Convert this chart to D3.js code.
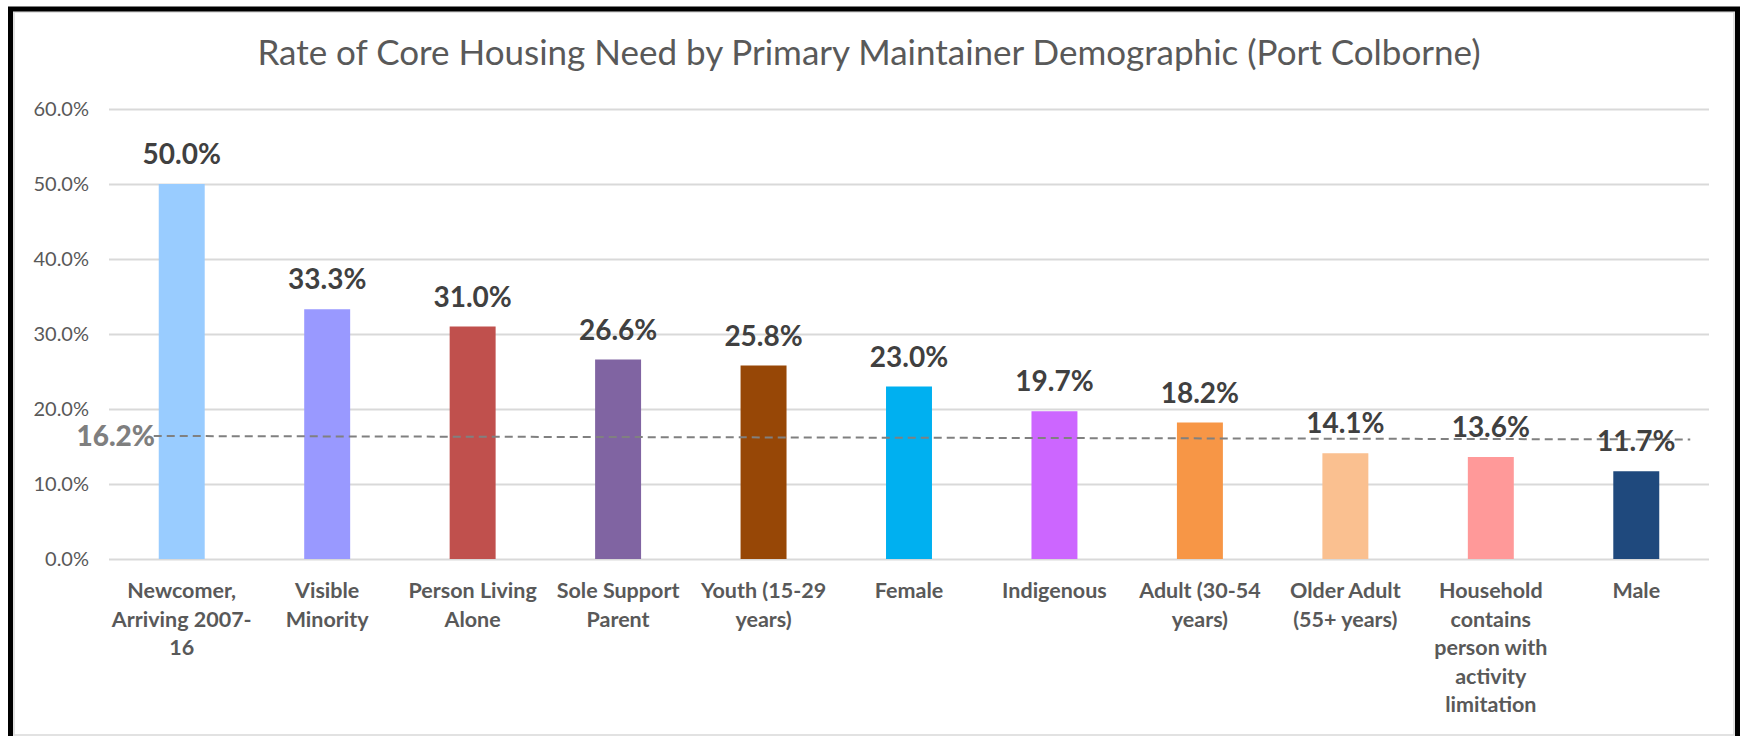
<!DOCTYPE html>
<html>
<head>
<meta charset="utf-8">
<script src="https://cdn.jsdelivr.net/npm/d3@7"></script>
<style>
  html, body { margin: 0; padding: 0; background: #fff; }
  svg { display: block; }
</style>
</head>
<body>
<svg id="chart" width="1743" height="736"></svg>
<script>
// ---- data ----
const title = "Rate of Core Housing Need by Primary Maintainer Demographic (Port Colborne)";
const categories = [
  "Newcomer,\nArriving 2007-\n16",
  "Visible\nMinority",
  "Person Living\nAlone",
  "Sole Support\nParent",
  "Youth (15-29\nyears)",
  "Female",
  "Indigenous",
  "Adult (30-54\nyears)",
  "Older Adult\n(55+ years)",
  "Household\ncontains\nperson with\nactivity\nlimitation",
  "Male"
];
const values = [0.500, 0.333, 0.310, 0.266, 0.258, 0.230, 0.197, 0.182, 0.141, 0.136, 0.117];
const barColors = ["#99CCFF", "#9999FF", "#C0504D", "#8064A2", "#974706", "#00B0F0",
                   "#CC66FF", "#F79646", "#FAC090", "#FF9999", "#1F497D"];
const yTicks = [0, 0.1, 0.2, 0.3, 0.4, 0.5, 0.6];
const averageValue = 0.162;

// ---- layout ----
const plot = { left: 109, right: 1709, top: 109, bottom: 559 };
const FONT = "Lato, 'Open Sans', 'Liberation Sans', sans-serif";

const svg = d3.select("#chart");

// outer frame
svg.append("rect").attr("x", 14).attr("y", 12).attr("width", 1720).attr("height", 723)
  .attr("fill", "none").attr("stroke", "#d9d9d9").attr("stroke-width", 1.5);
svg.append("rect").attr("x", 10.5).attr("y", 9).attr("width", 1727).attr("height", 760)
  .attr("fill", "none").attr("stroke", "#000").attr("stroke-width", 5);

const x = d3.scaleBand().domain(categories).range([plot.left, plot.right])
  .paddingInner(0.684).paddingOuter(0.342);
const y = d3.scaleLinear().domain([0, 0.6]).range([plot.bottom, plot.top]);

// title
svg.append("text").attr("x", 869).attr("y", 65).attr("text-anchor", "middle")
  .attr("font-family", FONT).attr("font-weight", 400).attr("font-size", 35).attr("fill", "#595959")
  .text(title);

// y axis with gridlines
const yAxis = svg.append("g").attr("transform", `translate(${plot.left},0)`)
  .call(d3.axisLeft(y).tickValues(yTicks).tickFormat(d3.format(".1%"))
    .tickSize(-(plot.right - plot.left)).tickPadding(20));
yAxis.select(".domain").remove();
yAxis.selectAll(".tick line").attr("stroke", "#d9d9d9").attr("stroke-width", 2);
yAxis.selectAll(".tick text").attr("font-family", FONT).attr("font-size", 20)
  .attr("fill", "#595959");

// bars
svg.append("g").selectAll("rect").data(values).join("rect")
  .attr("x", (d, i) => x(categories[i]))
  .attr("y", d => y(d))
  .attr("width", x.bandwidth())
  .attr("height", d => y(0) - y(d))
  .attr("fill", (d, i) => barColors[i]);

// average dashed line
const avgY = y(averageValue);
svg.append("line")
  .attr("x1", x(categories[0]) - 5).attr("x2", x(categories[categories.length - 1]) + x.bandwidth() + 31)
  .attr("y1", avgY - 1.5).attr("y2", avgY + 2)
  .attr("stroke", "#808080").attr("stroke-width", 2).attr("stroke-dasharray", "8,5");

// data labels
svg.append("g").selectAll("text").data(values).join("text")
  .attr("x", (d, i) => x(categories[i]) + x.bandwidth() / 2)
  .attr("y", d => y(d) - 20)
  .attr("text-anchor", "middle")
  .attr("font-family", FONT).attr("font-weight", 700).attr("font-size", 28)
  .attr("fill", "#404040")
  .text(d => d3.format(".1%")(d));

// average label
svg.append("text").attr("x", 155).attr("y", avgY + 8)
  .attr("text-anchor", "end")
  .attr("font-family", FONT).attr("font-weight", 900).attr("font-size", 28)
  .attr("fill", "#7f7f7f")
  .text(d3.format(".1%")(averageValue));

// category labels
const catG = svg.append("g");
categories.forEach(c => {
  const t = catG.append("text")
    .attr("x", x(c) + x.bandwidth() / 2)
    .attr("y", 598)
    .attr("text-anchor", "middle")
    .attr("font-family", FONT).attr("font-weight", 700).attr("font-size", 21.5)
    .attr("fill", "#595959");
  c.split("\n").forEach((line, j) => {
    t.append("tspan").attr("x", x(c) + x.bandwidth() / 2).attr("dy", j === 0 ? 0 : 28.5).text(line);
  });
});
</script>
</body>
</html>
